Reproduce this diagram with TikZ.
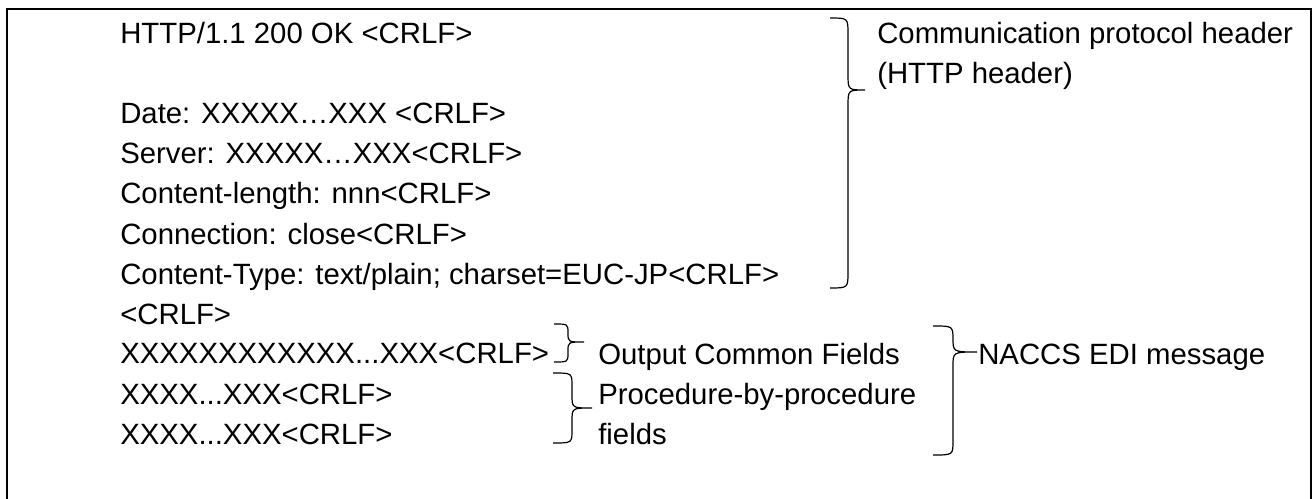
\documentclass[tikz,border=0pt]{standalone}
\usepackage{fontspec}
\setmainfont{Liberation Sans}
\begin{document}
\begin{tikzpicture}[x=0.75pt,y=-0.75pt,
  txt/.style={anchor=base west,inner sep=0pt,font=\fontsize{22pt}{26pt}\selectfont},
  frame/.style={line width=1.4pt},
  brace/.style={line width=0.9pt}]
\useasboundingbox (0,0) rectangle (1313,499);
\clip (0,0) rectangle (1313,499);
\draw[frame] (7,510) -- (7,9) -- (1311,9) -- (1311,510);
% left column
\node[txt] (l1) at (120,44) {HTTP/1.1 200 OK <CRLF>};
\node[txt] (l3) at (120,124) {Date: XXXXX…XXX <CRLF>};
\node[txt] (l4) at (120,164) {Server: XXXXX…XXX<CRLF>};
\node[txt] (l5) at (120,204) {Content-length: nnn<CRLF>};
\node[txt] (l6) at (120,244) {Connection: close<CRLF>};
\node[txt] (l7) at (120,284) {Content-Type: text/plain; charset=EUC-JP<CRLF>};
\node[txt] (l8) at (120,324) {<CRLF>};
\node[txt] (l9) at (120,363) {XXXXXXXXXXXX...XXX<CRLF>};
\node[txt] (l10) at (120,404) {XXXX...XXX<CRLF>};
\node[txt] (l11) at (120,444) {XXXX...XXX<CRLF>};
% labels
\node[txt] (h1) at (877,44) {Communication protocol header};
\node[txt] (h2) at (877,84) {(HTTP header)};
\node[txt] (oc) at (598,364) {Output Common Fields};
\node[txt] (pp1) at (598,404) {Procedure-by-procedure};
\node[txt] (pp2) at (598,444) {fields};
\node[txt] (na) at (978,364) {NACCS EDI message};
% braces: x0 end, x1 spine, x2 tip; yt top, ym tip, yb bottom, r radius
\def\brc#1#2#3#4#5#6#7{%
  \draw[brace] (#1,#4) .. controls (#2,#4) and (#2,#4) .. (#2,#4+#7)
    -- (#2,#5-#7) .. controls (#2,#5) and (#2,#5) .. (#3,#5)
    .. controls (#2,#5) and (#2,#5) .. (#2,#5+#7)
    -- (#2,#6-#7) .. controls (#2,#6) and (#2,#6) .. (#1,#6);}
\brc{830}{848}{865}{18}{90}{288}{16}
\brc{554}{568}{584}{324}{342}{362}{9}
\brc{553}{572}{592}{373}{408}{443}{13}
\brc{933}{953}{977}{326}{352}{455}{14}
\end{tikzpicture}
\end{document}
